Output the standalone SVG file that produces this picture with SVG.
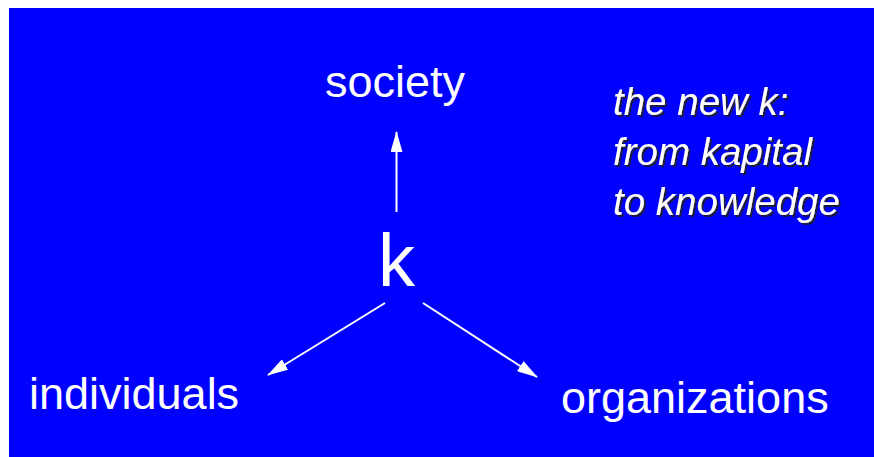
<svg xmlns="http://www.w3.org/2000/svg" width="874" height="457" viewBox="0 0 874 457">
<style>
.lbl{font-family:"Liberation Sans",Arial,sans-serif;fill:#fff;font-size:45px}
.k{font-family:"Liberation Sans",Arial,sans-serif;fill:#fff;font-size:74px}
.it{font-family:"Liberation Sans",Arial,sans-serif;font-style:italic;font-size:38.5px;fill:#fff;filter:url(#sh)}
.conn{stroke:#fff;stroke-width:2;fill:none;marker-end:url(#ah)}
</style>
<defs>
<marker id="ah" viewBox="0 0 21 12" refX="20" refY="6" markerWidth="21" markerHeight="12" markerUnits="userSpaceOnUse" orient="auto">
<path d="M0,0 L21,6 L0,12 Z" fill="#fff"/>
</marker>
<filter id="sh" x="-5%" y="-20%" width="115%" height="150%">
<feDropShadow dx="2" dy="2" stdDeviation="0.3" flood-color="#1a1a40" flood-opacity="1"/>
</filter>
</defs>
<rect x="0" y="0" width="874" height="457" fill="#fff"/>
<rect x="9" y="8" width="865" height="449" fill="#0000ff"/>
<g id="connectors">
<line class="conn" x1="396.5" y1="212" x2="396.5" y2="132"/>
<line class="conn" x1="385" y1="303" x2="268" y2="375"/>
<line class="conn" x1="423" y1="303" x2="537" y2="377"/>
</g>
<g id="k"><text class="k" x="378" y="286">k</text></g>
<g id="society"><text class="lbl" x="325" y="97">society</text></g>
<g id="individuals"><text class="lbl" x="29" y="409">individuals</text></g>
<g id="organizations"><text class="lbl" x="561" y="413">organizations</text></g>
<g id="title">
<text class="it" x="613" y="115">the new k:</text>
<text class="it" x="613" y="165">from kapital</text>
<text class="it" x="613" y="215">to knowledge</text>
</g>
</svg>
